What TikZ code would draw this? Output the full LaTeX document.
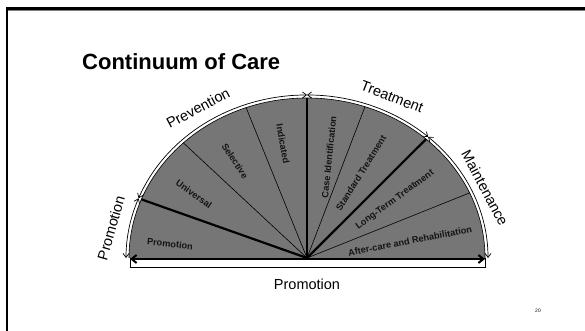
\documentclass[tikz,border=0pt]{standalone}
\usepackage{fontspec}
\setmainfont{Liberation Sans}
\usetikzlibrary{arrows.meta}
\definecolor{wedge}{RGB}{118,118,118}
\definecolor{ink}{RGB}{20,20,20}
\tikzset{
  thinline/.style={line width=0.6pt, draw=black},
  thickline/.style={line width=2.2pt, draw=black},
  arrowarc/.style={line width=0.7pt, draw=black, {Straight Barb[length=4pt,width=6pt]}-{Straight Barb[length=4pt,width=6pt]}},
  inlabel/.style={font=\fontsize{9.2}{10}\selectfont\bfseries, text=ink, inner sep=0pt},
  outlabel/.style={font=\fontsize{14.5}{16}\selectfont, text=black, inner sep=0pt},
}
\begin{document}
\begin{tikzpicture}[x=1pt,y=1pt]
\useasboundingbox (0,0) rectangle (585,331);
\fill[white] (0,0) rectangle (585,331);
% frame
\draw[gray, line width=1pt] (8,320.5) -- (585,320.5);
\draw[black, line width=2.2pt] (6,322.5) -- (585,322.5);
\draw[black, line width=2.2pt] (7,323.6) -- (7,0);
% title
\node[anchor=west, inner sep=0pt, font=\fontsize{22}{24}\selectfont\bfseries] (title) at (82,269) {Continuum of Care};
\node[inner sep=0pt, font=\fontsize{5}{6}\selectfont, text=ink] (page) at (538,20) {20};
\begin{scope}[shift={(307,73)}]
  \coordinate (c) at (0,0);
  % base strip
  \draw[line width=0.6pt, fill=white] (-177,0) rectangle (178,-9);
  % wedge fill
  \fill[wedge] (0:178 and 160) arc[start angle=0, end angle=180, x radius=178, y radius=160] -- cycle;
  \draw[line width=0.6pt] (0:178 and 160) arc[start angle=0, end angle=180, x radius=178, y radius=160];
  % thin dividers
  \foreach \a/\n in {24/d1, 71/d2, 110/d3, 134/d4}{
    \coordinate (\n) at (\a:178 and 160);
    \draw[thinline] (c) -- (\n);
  }
  % thick dividers
  \foreach \a/\n in {48/t1, 90/t2, 158.5/t3}{
    \coordinate (\n) at (\a:178 and 160);
    \draw[thickline] (c) -- (\n);
  }
  % base arrow
  \coordinate (bl) at (-177,-1);
  \coordinate (br) at (178,-1);
  \draw[line width=2pt, {Straight Barb[length=5pt,width=8pt]}-{Straight Barb[length=5pt,width=8pt]}] (bl) -- (br);
  % outer arcs with arrows
  \draw[arrowarc] (180:181 and 163) arc[start angle=180, end angle=158.5, x radius=181, y radius=163];
  \draw[arrowarc] (158.5:181 and 163) arc[start angle=158.5, end angle=90, x radius=181, y radius=163];
  \draw[arrowarc] (90:181 and 163) arc[start angle=90, end angle=48, x radius=181, y radius=163];
  \draw[arrowarc] (48:181 and 163) arc[start angle=48, end angle=0, x radius=181, y radius=163];
  % inner labels
  \node[inlabel, rotate=-6]  (l1) at (-137,14)  {Promotion};
  \node[inlabel, rotate=-35] (l2) at (-113,64)  {Universal};
  \node[inlabel, rotate=-57] (l3) at (-72,97)   {Selective};
  \node[inlabel, rotate=-80] (l4) at (-24,114)  {Indicated};
  \node[inlabel, rotate=84]  (l5) at (22,101)   {Case Identification};
  \node[inlabel, rotate=58]  (l6) at (54,85)    {Standard Treatment};
  \node[inlabel, rotate=36]  (l7) at (88,58)    {Long-Term Treatment};
  \node[inlabel, rotate=11]  (l8) at (103,17)   {After-care and Rehabilitation};
  % outer labels
  \node[outlabel, rotate=28]  (o1) at (-109,150) {Prevention};
  \node[outlabel, rotate=-21] (o2) at (85,161)   {Treatment};
  \node[outlabel, rotate=-62] (o3) at (178,70)   {Maintenance};
  \node[outlabel, rotate=74]  (o4) at (-196,30)  {Promotion};
  \node[outlabel]             (o5) at (0,-26)    {Promotion};
\end{scope}
\end{tikzpicture}
\end{document}
